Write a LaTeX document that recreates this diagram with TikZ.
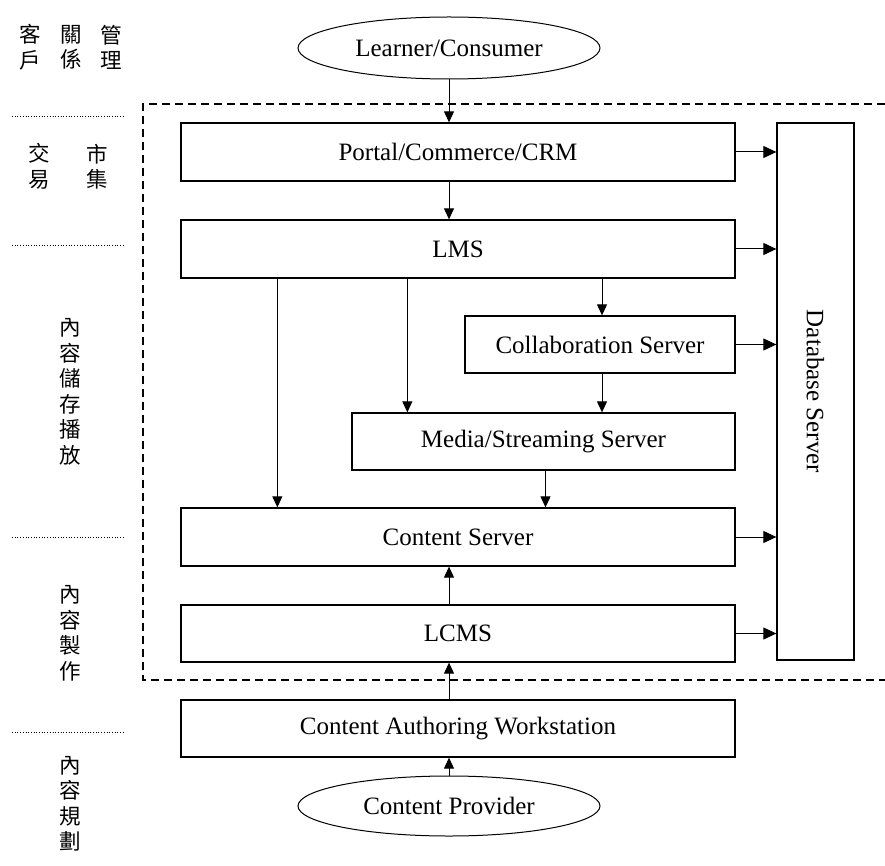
\documentclass[tikz,border=0pt]{standalone}
\usepackage{fontspec}
\setmainfont{Liberation Serif}
\newfontfamily\cjk{Noto Sans CJK TC}
\usetikzlibrary{arrows.meta,shapes.geometric,calc}
\tikzset{
  box/.style={draw,line width=1.3pt,minimum width=554pt,minimum height=58pt,inner sep=0pt,font=\fontsize{25}{30}\selectfont},
  oval/.style={draw,ellipse,line width=1pt,minimum width=302pt,minimum height=62pt,inner sep=0pt,font=\fontsize{25}{30}\selectfont},
  arr/.style={line width=1pt,-{Triangle[length=11pt,width=10pt]}},
  harr/.style={line width=1pt,-{Triangle[length=13pt,width=12pt]}},
  sep/.style={dotted,line width=0.7pt},
  lab/.style={font=\cjk\fontsize{21.5}{25.5}\selectfont,align=center,inner sep=0pt},
  frame/.style={line width=1.1pt,dash pattern=on 8pt off 5pt}
}
\begin{document}
\begin{tikzpicture}[x=1pt,y=-1pt]
\useasboundingbox[fill=white] (0,0) rectangle (885,866);
% dashed frame
\draw[frame] (885,104) -- (143,104) -- (143,680) -- (885,680);
% nodes
\node[oval] (learner) at (449,48) {Learner/Consumer};
\node[box] (portal) at (458,152) {Portal/Commerce/CRM};
\node[box] (lms) at (458,249) {LMS};
\node[box,minimum width=270pt,minimum height=57pt] (collab) at (600,344.5) {Collaboration Server};
\node[box,minimum width=383pt,minimum height=57pt] (media) at (543.5,441.5) {Media/Streaming Server};
\node[box] (cs) at (458,537) {Content Server};
\node[box,minimum height=57pt] (lcms) at (458,633.5) {LCMS};
\node[box,minimum height=57pt] (caw) at (458,728.5) {Content Authoring Workstation};
\node[oval,minimum height=60pt] (provider) at (449,806) {Content Provider};
\node[box,minimum width=77pt,minimum height=537pt] (db) at (815.5,391.5) {};
\node[rotate=-90,font=\fontsize{25}{30}\selectfont] (dbtext) at (db.center) {Database Server};
% vertical connectors
\draw[arr] (learner.south) -- (learner.south |- portal.north);
\draw[arr] (learner.south |- portal.south) -- (learner.south |- lms.north);
\draw[arr] ([xshift=97pt]cs.north west |- lms.south) -- ([xshift=97pt]cs.north west);
\draw[arr] ([xshift=56pt]media.north west |- lms.south) -- ([xshift=56pt]media.north west);
\draw[arr] ([xshift=2pt]collab.north |- lms.south) -- ([xshift=2pt]collab.north);
\draw[arr] ([xshift=2pt]collab.south) -- ([xshift=2pt]collab.south |- media.north);
\draw[arr] ([xshift=2pt]media.south) -- ([xshift=2pt]media.south |- cs.north);
\draw[arr] (learner.south |- lcms.north) -- (learner.south |- cs.south);
\draw[arr] (learner.south |- caw.north) -- (learner.south |- lcms.south);
\draw[arr] (provider.north) -- (provider.north |- caw.south);
% to database
\draw[harr] (portal.east) -- (portal.east -| db.west);
\draw[harr] (lms.east) -- (lms.east -| db.west);
\draw[harr] (collab.east) -- (collab.east -| db.west);
\draw[harr] (cs.east) -- (cs.east -| db.west);
\draw[harr] (lcms.east) -- (lcms.east -| db.west);
% left labels
\node[lab] (c1) at (30,47.5) {客\\戶};
\node[lab] (c2) at (71,47.5) {關\\係};
\node[lab] (c3) at (111,47.5) {管\\理};
\coordinate (s1a) at (12,116); \coordinate (s1b) at (123,116);
\draw[sep] (s1a) -- (s1b);
\node[lab] (t1) at (39,166.5) {交\\易};
\node[lab] (t2) at (97,166.5) {市\\集};
\coordinate (s2a) at (12,245); \coordinate (s2b) at (123,245);
\draw[sep] (s2a) -- (s2b);
\node[lab] (p1) at (70,392) {內\\容\\儲\\存\\播\\放};
\coordinate (s3a) at (12,537); \coordinate (s3b) at (123,537);
\draw[sep] (s3a) -- (s3b);
\node[lab] (m1) at (70,633.5) {內\\容\\製\\作};
\coordinate (s4a) at (12,732); \coordinate (s4b) at (123,732);
\draw[sep] (s4a) -- (s4b);
\node[lab] (g1) at (70,804) {內\\容\\規\\劃};
\end{tikzpicture}
\end{document}
